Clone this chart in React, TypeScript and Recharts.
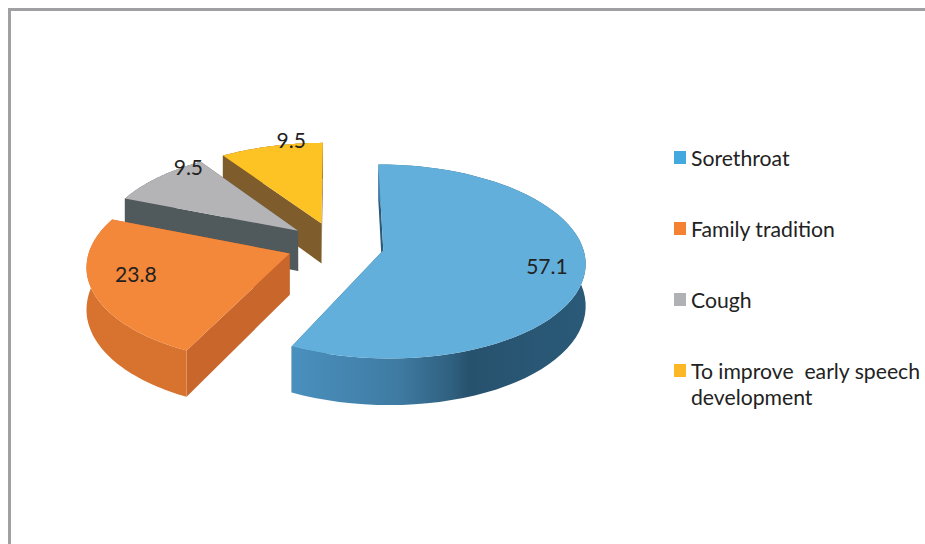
import { PieChart, Pie, Legend } from "recharts";

// drawn far-to-near so the nearer slices overlap the others
const categories = ["To improve  early speech development", "Cough", "Family tradition", "Sorethroat"];
const values = [9.5, 9.5, 23.8, 57.1];
const topColors = ["#fdc325", "#b4b4b6", "#f3873a", "#62afdc"];
const sideColors = ["#7e5c2c", "#50595b", "#c8662b", "#2a5a78"];
const rimColors = ["#7e5c2c", "#50595b", "#d8722f", "url(#blueRim)"];
const swatchColors = ["#fbb725", "#b0b1b5", "#f58133", "#44a9de"];
const labelNudges = [[12, -19], [8, -20], [9, -10], [-3, -3]];

const chartData = categories.map((name, i) => ({
  name,
  value: values[i],
  fill: topColors[i],
  side: sideColors[i],
  rim: rimColors[i],
}));

const FONT = "Lato, sans-serif";
const TILT = 0.475; // vertical squash of the pie plane
const PERSPECTIVE = 0.115;
const EXPLODE = 0.245; // fraction of the radius
const DEPTH = 41;

const rad = (deg: number) => (deg * Math.PI) / 180;

// project a point of the pie plane (in radius units) to the screen
function project(cx: number, cy: number, R: number, u: number, v: number) {
  const w = 1 + PERSPECTIVE * v;
  return { x: cx + (R * u) / w, y: cy - (R * TILT * v) / w, w };
}

function path(points: { x: number; y: number }[]) {
  return points.map((p, i) => `${i ? "L" : "M"}${p.x.toFixed(1)},${p.y.toFixed(1)}`).join(" ") + " Z";
}

const drop = (p: { x: number; y: number; w: number }) => ({ x: p.x, y: p.y + DEPTH / p.w, w: p.w });

function SliceShape(props: any) {
  const { cx, cy, outerRadius, startAngle, endAngle, midAngle, fill, side, rim } = props;
  const eu = EXPLODE * Math.cos(rad(midAngle));
  const ev = EXPLODE * Math.sin(rad(midAngle));
  const apex = project(cx, cy, outerRadius, eu, ev);
  const steps = 64;
  const arc = [];
  for (let i = 0; i <= steps; i++) {
    const a = rad(startAngle + ((endAngle - startAngle) * i) / steps);
    arc.push(project(cx, cy, outerRadius, eu + Math.cos(a), ev + Math.sin(a)));
  }
  const first = arc[0];
  const last = arc[arc.length - 1];
  return (
    <g>
      <defs>
        <linearGradient id="blueRim" x1="0" y1="0" x2="1" y2="0">
          <stop offset="0" stopColor="#4a90be" />
          <stop offset="0.36" stopColor="#3f7ba3" />
          <stop offset="0.55" stopColor="#2f5f7e" />
          <stop offset="0.6" stopColor="#27526e" />
          <stop offset="1" stopColor="#2a5a78" />
        </linearGradient>
      </defs>
      <path d={path([apex, first, drop(first), drop(apex)])} fill={side} />
      <path d={path([apex, last, drop(last), drop(apex)])} fill={side} />
      <path d={path([...arc, ...arc.map(drop).reverse()])} fill={rim} />
      <path d={path([apex, ...arc])} fill={fill} />
    </g>
  );
}

function SliceLabel(props: any) {
  const { cx, cy, outerRadius, midAngle, value, index } = props;
  const u = (EXPLODE + 0.83) * Math.cos(rad(midAngle));
  const v = (EXPLODE + 0.83) * Math.sin(rad(midAngle));
  const p = project(cx, cy, outerRadius, u, v);
  const [dx, dy] = labelNudges[index];
  return (
    <text x={p.x + dx} y={p.y + dy} textAnchor="middle" dominantBaseline="central" fontFamily={FONT} fontSize={21} fill="#222">
      {value}
    </text>
  );
}

function LegendList() {
  const rowTops = [0, 71, 142, 213];
  const order = [3, 2, 1, 0];
  return (
    <div style={{ position: "relative", width: 248, height: 290, fontFamily: FONT, fontSize: 21.2, color: "#222" }}>
      {order.map((idx, row) => (
        <div key={idx} style={{ position: "absolute", left: 0, top: rowTops[row], display: "flex" }}>
          <span style={{ width: 12, height: 13, marginTop: 6, marginRight: 5, background: swatchColors[idx], flexShrink: 0 }} />
          <span style={{ width: 231, lineHeight: "26px", whiteSpace: "pre-wrap" }}>{categories[idx]}</span>
        </div>
      ))}
    </div>
  );
}

export default function App() {
  return (
    <div style={{ position: "absolute", left: 0, top: 0, width: 925, height: 544, overflow: "hidden", background: "#fff" }}>
      <div style={{ position: "absolute", left: 8, top: 8, right: 0, bottom: 0, borderTop: "3px solid #a0a0a3", borderLeft: "3px solid #a0a0a3" }} />
      <div style={{ position: "absolute", left: 0, top: 0 }}>
        <PieChart width={925} height={544} margin={{ top: 0, right: 0, bottom: 0, left: 0 }}>
          <Pie
            data={chartData}
            dataKey="value"
            nameKey="name"
            cx={335.5}
            cy={245}
            outerRadius={199}
            startAngle={90}
            endAngle={450}
            stroke="none"
            shape={SliceShape}
            label={SliceLabel}
            labelLine={false}
            isAnimationActive={false}
          />
          <Legend
            layout="vertical"
            align="right"
            verticalAlign="top"
            content={<LegendList />}
            wrapperStyle={{ left: 674, right: "auto", top: 145, width: 248 }}
          />
        </PieChart>
      </div>
    </div>
  );
}
